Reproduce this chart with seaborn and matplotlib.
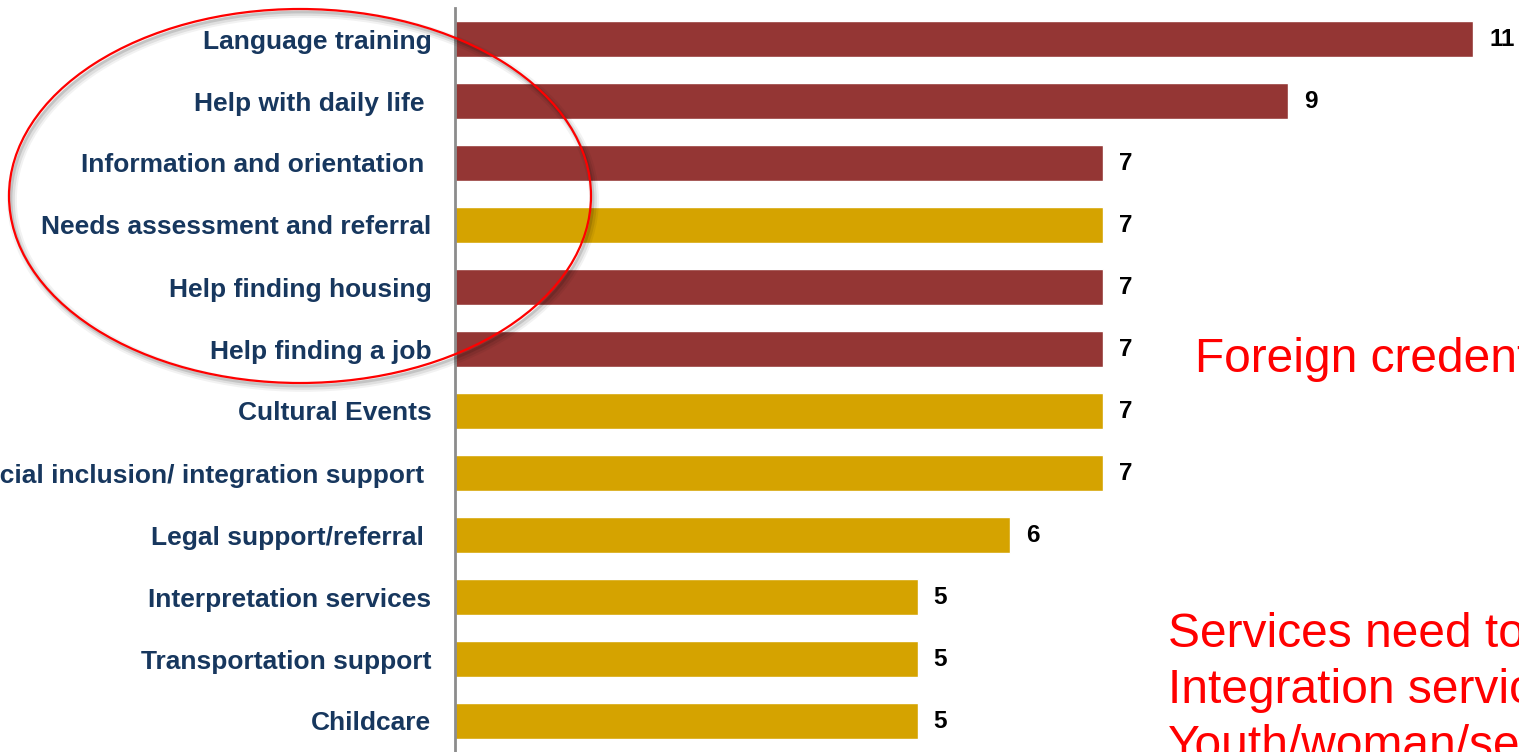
import matplotlib
matplotlib.use("Agg")
import matplotlib.pyplot as plt
from matplotlib.patches import Ellipse
import seaborn as sns
import pandas as pd

categories = [
    "Language training",
    "Help with daily life ",
    "Information and orientation ",
    "Needs assessment and referral",
    "Help finding housing",
    "Help finding a job",
    "Cultural Events",
    "Social inclusion/ integration support ",
    "Legal support/referral ",
    "Interpretation services",
    "Transportation support",
    "Childcare",
]
values = [11, 9, 7, 7, 7, 7, 7, 7, 6, 5, 5, 5]
groups = ["red", "red", "red", "gold", "red", "red",
          "gold", "gold", "gold", "gold", "gold", "gold"]
group_colors = {"red": "#943634", "gold": "#D5A300"}

note_top = "Foreign credentials"
note_lines = ["Services need to be tailored",
              "Integration services",
              "Youth/woman/seniors"]

sns.set_style("white")
plt.rcParams["font.family"] = ["Liberation Sans", "DejaVu Sans"]

W, H = 1519, 752
fig = plt.figure(figsize=(W / 100, H / 100), dpi=100)
ax = fig.add_axes([455 / W, 0, 1 - 455 / W, (H - 8) / H])

df = pd.DataFrame({"cat": categories, "val": values,
                   "grp": groups})
palette = [group_colors[g] for g in groups]
sns.barplot(data=df, x="val", y="cat", hue="cat", palette=palette,
            legend=False, orient="h", width=0.58, ax=ax, saturation=1)

ax.set_xlim(0, (W - 455) / 92.55)
ax.set_ylim(11.5, -0.5)
ax.set_xlabel("")
ax.set_ylabel("")
ax.set_xticks([])
for s in ["top", "right", "bottom"]:
    ax.spines[s].set_visible(False)
ax.spines["left"].set_color("#8C8C8C")
ax.spines["left"].set_linewidth(2)
ax.tick_params(axis="y", length=0, pad=17)
for lbl in ax.get_yticklabels():
    lbl.set_fontsize(19)
    lbl.set_fontweight("bold")
    lbl.set_color("#17375E")

for i, v in enumerate(values):
    ax.text(v + 16 / 92.55, i, str(v), va="center", ha="left",
            fontsize=17.5, fontweight="bold", color="black")

# red ellipse with soft shadow
cx, cy, ew, eh = 300 / W, 1 - 196 / H, 582 / W, 374 / H
for k, (dx, dy, lw, a) in enumerate([(3, -4, 7, 0.05), (3, -4, 4, 0.08), (2, -3, 2, 0.12)]):
    sh = Ellipse((cx + dx / W, cy + dy / H), ew, eh, angle=0,
                 transform=fig.transFigure, fill=False,
                 edgecolor="black", lw=lw, alpha=a)
    fig.add_artist(sh)
ell = Ellipse((cx, cy), ew, eh, angle=0, transform=fig.transFigure,
              fill=False, edgecolor="#FF0000", lw=1.6)
fig.add_artist(ell)

fig.text(1195 / W, 1 - 372 / H, note_top, ha="left", va="baseline",
         fontsize=34.5, color="#FF0000")
for j, line in enumerate(note_lines):
    fig.text(1168 / W, 1 - (647 + 56 * j) / H, line, ha="left",
             va="baseline", fontsize=34.5, color="#FF0000")

fig.savefig("out.png", dpi=100)
